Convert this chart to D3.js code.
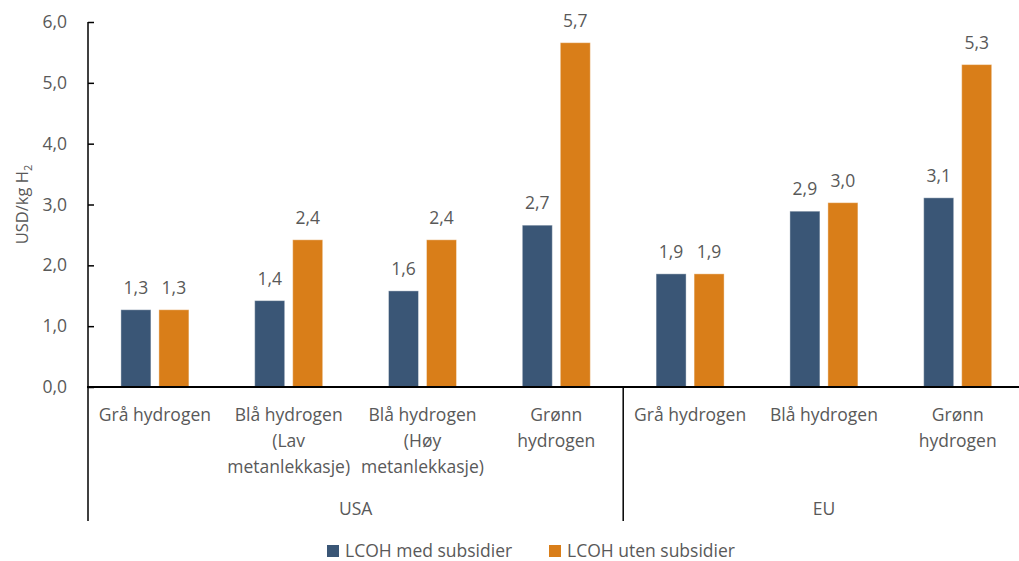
<!DOCTYPE html>
<html>
<head>
<meta charset="utf-8">
<script src="https://cdn.jsdelivr.net/npm/d3@7"></script>
<style>
  body { margin: 0; background: #fff; }
  text { font-family: "Open Sans", sans-serif; fill: #595959; }
</style>
</head>
<body>
<div id="chart"></div>
<script>
// data
const categories = [
  ["Grå hydrogen"],
  ["Blå hydrogen", "(Lav", "metanlekkasje)"],
  ["Blå hydrogen", "(Høy", "metanlekkasje)"],
  ["Grønn", "hydrogen"],
  ["Grå hydrogen"],
  ["Blå hydrogen"],
  ["Grønn", "hydrogen"]
];
const regions = ["USA", "EU"];
const regionSize = [4, 3];
const seriesNames = ["LCOH med subsidier", "LCOH uten subsidier"];
const medSubsidier = [1.27, 1.42, 1.58, 2.66, 1.86, 2.89, 3.11];
const utenSubsidier = [1.27, 2.42, 2.42, 5.66, 1.86, 3.03, 5.30];
const yTicks = [0, 1, 2, 3, 4, 5, 6];
const colors = ["#3a5676", "#d97e19"];

// set the dimensions
const W = 1019, H = 561;
const margin = {top: 22, left: 88, bottom: 174};
const plotH = H - margin.top - margin.bottom; // 365
const step = 133.8;

const locale = d3.formatLocale({decimal: ",", thousands: " ", grouping: [3], currency: ["", ""]});
const fmt = locale.format(".1f");

const svg = d3.select("#chart")
              .append("svg")
              .attr("width", W)
              .attr("height", H);

const ids = categories.map((c, i) => i);

// X scale (categories)
const x0 = d3.scaleBand()
             .domain(ids)
             .range([margin.left, margin.left + step * ids.length])
             .paddingInner(0)
             .paddingOuter(0);

// inner scale for the two series
const barsW = 68;
const x1 = d3.scaleBand()
             .domain(seriesNames)
             .range([0, barsW])
             .paddingInner(8 / 38);

// Y scale
const y = d3.scaleLinear()
            .domain([0, 6])
            .range([margin.top + plotH, margin.top]);

const y0 = y(0);

// y axis ticks
svg.append("g")
   .attr("transform", `translate(${margin.left},0)`)
   .call(d3.axisRight(y).tickValues(yTicks).tickSize(6).tickFormat(""))
   .call(g => g.select(".domain").remove())
   .selectAll("line")
   .attr("stroke", "#000")
   .attr("stroke-width", 1.5);

svg.append("g")
   .selectAll("text")
   .data(yTicks)
   .join("text")
   .attr("x", 67)
   .attr("y", d => y(d))
   .attr("dy", "0.35em")
   .attr("text-anchor", "end")
   .style("font-size", "17.5px")
   .text(d => fmt(d));

// y axis title
svg.append("text")
   .attr("transform", `translate(28,${(y(0) + y(6)) / 2}) rotate(-90)`)
   .attr("text-anchor", "middle")
   .style("font-size", "16.5px")
   .html('USD/kg H<tspan dy="4" font-size="11px">2</tspan>');

// bars
const rows = ids.map(i => ({i, vals: [medSubsidier[i], utenSubsidier[i]]}));
const cat = svg.selectAll(".cat")
               .data(rows)
               .join("g")
               .attr("class", "cat")
               .attr("transform", d => `translate(${x0(d.i) + (step - barsW) / 2},0)`);

cat.selectAll("rect")
   .data(d => d.vals.map((v, k) => ({v, k})))
   .join("rect")
   .attr("x", d => x1(seriesNames[d.k]))
   .attr("y", d => y(d.v))
   .attr("width", x1.bandwidth())
   .attr("height", d => y0 - y(d.v))
   .attr("fill", d => colors[d.k])
   .attr("stroke", "#fff")
   .attr("stroke-opacity", 0.4)
   .attr("stroke-width", 1);

cat.selectAll(".val")
   .data(d => d.vals.map((v, k) => ({v, k})))
   .join("text")
   .attr("class", "val")
   .attr("x", d => x1(seriesNames[d.k]) + x1.bandwidth() / 2)
   .attr("y", d => y(d.v) - 16)
   .attr("text-anchor", "middle")
   .style("font-size", "17.5px")
   .text(d => fmt(d.v));

// category labels
svg.selectAll(".catlab")
   .data(rows)
   .join("text")
   .attr("class", "catlab")
   .attr("text-anchor", "middle")
   .style("font-size", "17.5px")
   .selectAll("tspan")
   .data(d => categories[d.i].map(t => ({t, i: d.i})))
   .join("tspan")
   .attr("x", d => x0(d.i) + step / 2)
   .attr("y", (d, j) => 421 + j * 26)
   .text(d => d.t);

// region labels and separators
let start = 0;
const bottomY = 521;
regions.forEach((r, k) => {
  const x0s = x0(start);
  const x1s = x0(start + regionSize[k] - 1) + step;
  svg.append("text")
     .attr("x", (x0s + x1s) / 2)
     .attr("y", 515)
     .attr("text-anchor", "middle")
     .style("font-size", "17.5px")
     .text(r);
  svg.append("line")
     .attr("x1", x1s).attr("x2", x1s)
     .attr("y1", y0).attr("y2", bottomY)
     .attr("stroke", "#000").attr("stroke-width", 1.5);
  start += regionSize[k];
});

// axis lines
svg.append("line")
   .attr("x1", margin.left).attr("x2", margin.left)
   .attr("y1", y(6)).attr("y2", bottomY)
   .attr("stroke", "#000").attr("stroke-width", 1.5);
svg.append("line")
   .attr("x1", margin.left - 1).attr("x2", W)
   .attr("y1", y0).attr("y2", y0)
   .attr("stroke", "#000").attr("stroke-width", 2);

// legend
const legendX = [327, 549];
const legend = svg.selectAll(".leg")
                  .data(seriesNames)
                  .join("g")
                  .attr("class", "leg")
                  .attr("transform", (d, i) => `translate(${legendX[i]},545)`);
legend.append("rect")
      .attr("width", 12).attr("height", 12)
      .attr("fill", (d, i) => colors[i]);
legend.append("text")
      .attr("x", 18)
      .attr("y", 6)
      .attr("dy", "0.35em")
      .style("font-size", "17.5px")
      .text(d => d);
</script>
</body>
</html>
